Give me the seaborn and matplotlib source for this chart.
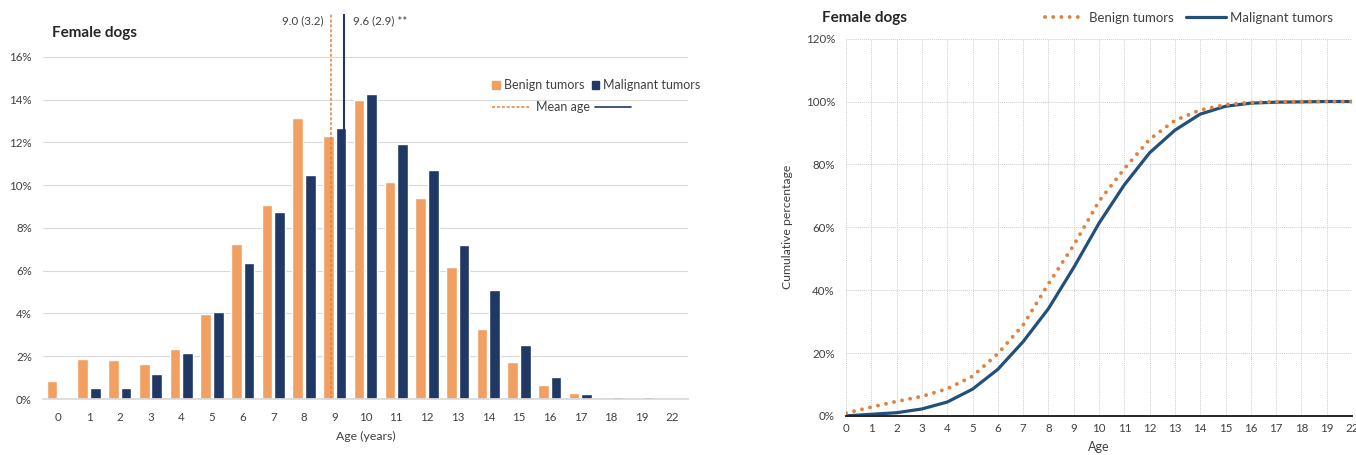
import numpy as np
import pandas as pd
import matplotlib
matplotlib.use("Agg")
import matplotlib.pyplot as plt
from matplotlib.lines import Line2D
from matplotlib.patches import Patch
import seaborn as sns

ages = ["0", "1", "2", "3", "4", "5", "6", "7", "8", "9", "10",
        "11", "12", "13", "14", "15", "16", "17", "18", "19", "22"]
benign_pct = [0.86, 1.89, 1.83, 1.64, 2.35, 3.99, 7.23, 9.06, 13.15, 12.29, 14.0,
              10.13, 9.42, 6.16, 3.27, 1.75, 0.64, 0.28, 0.09, 0.0, 0.03]
malignant_pct = [0.0, 0.50, 0.53, 1.18, 2.17, 4.08, 6.35, 8.76, 10.49, 12.69, 14.27,
                 11.93, 10.73, 7.22, 5.10, 2.51, 1.03, 0.25, 0.11, 0.11, 0.05]
benign_cum = [0.9, 2.8, 4.6, 6.2, 8.6, 12.6, 19.8, 28.9, 42.0, 54.3, 68.3,
              78.6, 88.0, 94.0, 97.3, 99.0, 99.7, 99.9, 100.0, 100.0, 100.0]
malignant_cum = [0.0, 0.5, 1.0, 2.2, 4.4, 8.5, 14.8, 23.6, 34.1, 47.2, 61.3,
                 73.5, 83.7, 90.9, 96.0, 98.5, 99.5, 99.8, 99.9, 100.0, 100.0]
mean_age = {"Benign tumors": (9.0, 3.2), "Malignant tumors": (9.6, 2.9)}

ORANGE = "#F2A062"
NAVY = "#203864"
LINE_ORANGE = "#E0823F"
LINE_NAVY = "#22507A"
TXT = "#404040"

sns.set_theme(style="white")
plt.rcParams["font.family"] = ["Lato", "DejaVu Sans"]

fig = plt.figure(figsize=(13.56, 4.55), dpi=100)

# ---------- left: age distribution ----------
ax1 = fig.add_axes([0.0317, 0.123, 0.4756, 0.846])
df = pd.DataFrame({
    "Age": ages * 2,
    "Percent": benign_pct + malignant_pct,
    "Type": ["Benign tumors"] * len(ages) + ["Malignant tumors"] * len(ages),
})
sns.barplot(data=df, x="Age", y="Percent", hue="Type", order=ages,
            palette=[ORANGE, NAVY], width=0.82, gap=0.15, saturation=1,
            ax=ax1, legend=False)
ax1.set_xlim(-0.5, len(ages) - 0.5)
ax1.set_ylim(0, 18)
ax1.set_yticks(range(0, 17, 2))
ax1.set_yticklabels([f"{v}%" for v in range(0, 17, 2)])
ax1.grid(axis="y", color="#D9D9D9", linewidth=0.8)
ax1.set_axisbelow(True)
for s in ["top", "right", "left"]:
    ax1.spines[s].set_visible(False)
ax1.spines["bottom"].set_color("#D9D9D9")
ax1.tick_params(axis="y", length=0, labelsize=8.3, labelcolor=TXT, pad=8)
ax1.tick_params(axis="x", length=0, labelsize=8.3, labelcolor=TXT, pad=9)
ax1.set_xlabel("Age (years)", fontsize=8.8, color=TXT, labelpad=6)
ax1.set_ylabel("")


# mean age lines on the category axis (Excel secondary axis mapping)
def age_to_x(a):
    return 8.87 + (a - 9.0) * 0.72


mb, sb = mean_age["Benign tumors"]
mm, sm = mean_age["Malignant tumors"]
ax1.axvline(age_to_x(mb), color=LINE_ORANGE, linestyle=(0, (2, 1.2)), linewidth=1.1)
ax1.axvline(age_to_x(mm), color=NAVY, linewidth=1.5)
ax1.text(age_to_x(mb) - 0.25, 17.7, f"{mb:.1f} ({sb})", ha="right", va="center",
         fontsize=8.3, color=TXT)
ax1.text(age_to_x(mm) + 0.3, 17.7, f"{mm:.1f} ({sm}) **", ha="left", va="center",
         fontsize=8.3, color=TXT)
ax1.text(0.014, 0.95, "Female dogs", transform=ax1.transAxes, fontsize=11,
         fontweight="bold", color="#262626", va="center")

leg1 = ax1.legend([Patch(color=ORANGE), Patch(color=NAVY)],
                  ["Benign tumors", "Malignant tumors"], ncol=2, frameon=False,
                  fontsize=9, loc="center left", bbox_to_anchor=(0.697, 0.815),
                  handlelength=0.6, handleheight=0.6, handletextpad=0.3,
                  columnspacing=0.6, labelcolor=TXT, borderpad=0, borderaxespad=0)
ax1.add_artist(leg1)
ax1.legend([Line2D([], [], color=LINE_ORANGE, linestyle=(0, (2, 1.2)), linewidth=1.1),
            Line2D([], [], color=NAVY, linewidth=1.2)],
           ["Mean age", ""], ncol=2, frameon=False, fontsize=9, loc="center left",
           bbox_to_anchor=(0.697, 0.758), handlelength=2.9, handletextpad=0.6,
           columnspacing=0.4, labelcolor=TXT, borderpad=0, borderaxespad=0)

# ---------- right: cumulative ----------
ax2 = fig.add_axes([0.6239, 0.086, 0.3732, 0.829])
pos = np.arange(len(ages))
cdf = pd.DataFrame({"pos": np.concatenate([pos, pos]),
                    "Cum": benign_cum + malignant_cum,
                    "Type": ["Benign tumors"] * len(ages) + ["Malignant tumors"] * len(ages)})
sns.lineplot(data=cdf[cdf["Type"] == "Malignant tumors"], x="pos", y="Cum",
             color=LINE_NAVY, linewidth=2.3, ax=ax2, legend=False)
sns.lineplot(data=cdf[cdf["Type"] == "Benign tumors"], x="pos", y="Cum",
             color=LINE_ORANGE, linewidth=2.8, linestyle=(0, (0.01, 2.1)),
             dash_capstyle="round", ax=ax2, legend=False)
ax2.set_xlim(0, len(ages) - 1)
ax2.set_ylim(0, 120)
ax2.set_xticks(pos)
ax2.set_xticklabels(ages)
ax2.set_yticks(range(0, 121, 20))
ax2.set_yticklabels([f"{v}%" for v in range(0, 121, 20)])
ax2.grid(True, color="#CFCFCF", linestyle=(0, (1, 1)), linewidth=0.7)
for s in ["top", "right", "left"]:
    ax2.spines[s].set_visible(False)
ax2.spines["bottom"].set_color("#262626")
ax2.spines["bottom"].set_linewidth(1.4)
ax2.tick_params(axis="x", direction="inout", length=8, width=1.1, color="#262626",
                labelsize=8.3, labelcolor=TXT, pad=1)
ax2.tick_params(axis="y", length=0, labelsize=8.3, labelcolor=TXT, pad=8)
ax2.set_xlabel("Age", fontsize=9, color=TXT, labelpad=5)
ax2.set_ylabel("Cumulative percentage", fontsize=8.8, color=TXT, labelpad=9)
fig.text(822 / 1356, 1 - 18 / 455, "Female dogs", fontsize=11, fontweight="bold",
         color="#262626", va="center")
lh = [Line2D([], [], color=LINE_ORANGE, linewidth=2.8, linestyle=(0, (0.01, 2.1)),
             dash_capstyle="round"),
      Line2D([], [], color=LINE_NAVY, linewidth=2.3)]
fig.legend(lh, ["Benign tumors", "Malignant tumors"], ncol=2, frameon=False,
           fontsize=9.5, loc="center", bbox_to_anchor=(1189 / 1356, 1 - 18 / 455),
           handlelength=3.0, handletextpad=0.3, columnspacing=1.0, labelcolor=TXT)

fig.savefig("out.png", dpi=100)
